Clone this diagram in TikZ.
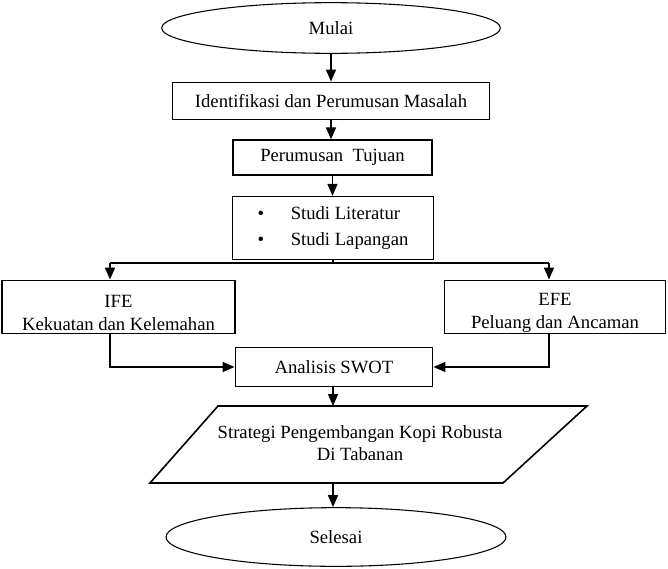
\documentclass[tikz,border=0pt]{standalone}
\usepackage{fontspec}
\setmainfont{Liberation Serif}
\usepackage{tikz}
\usetikzlibrary{shapes.geometric}
\usetikzlibrary{arrows.meta}
\tikzset{terminal/.style={draw,ellipse,line width=0.8pt,inner sep=0pt},
 box/.style={draw,rectangle,line width=1.2pt,inner sep=0pt,align=center},
 blank/.style={draw=none,align=center},
 arr/.style={line width=1.2pt,-{Triangle[width=7.5pt,length=9pt]}},
 link/.style={line width=1.2pt},
 }

\begin{document}
\begin{tikzpicture}[x=0.75pt,y=-0.75pt,font=\fontsize{14}{17}\selectfont]
        \useasboundingbox (0,0) rectangle (668,568);
        \node[terminal,minimum width=254pt,minimum height=38pt] (mulai) at (331,28) {Mulai};
        \node[box,minimum width=238pt,minimum height=28pt] (masalah) at (331,101) {Identifikasi dan Perumusan Masalah};
        \node[box,minimum width=149pt,minimum height=26pt] (tujuan) at (332.5,157.5) {Perumusan\ \ Tujuan};
        \node[box,minimum width=151pt,minimum height=47pt,align=left] (studi) at (333,228)
            {\textbullet\hspace{20pt}Studi Literatur\\[2pt]\textbullet\hspace{20pt}Studi Lapangan};
        \node[box,minimum width=175pt,minimum height=40pt] (ife) at (118.5,307) {\rule{0pt}{18pt}IFE\\Kekuatan dan Kelemahan};
        \node[box,minimum width=166pt,minimum height=40pt] (efe) at (555,307) {\rule{0pt}{18pt}EFE\\Peluang dan Ancaman};
        \node[box,minimum width=148pt,minimum height=29pt] (swot) at (334,367) {Analisis SWOT};
        \coordinate (pkiriatas) at (218,406);
        \coordinate (pkananatas) at (587,406);
        \coordinate (pkananbawah) at (503,483);
        \coordinate (pkiribawah) at (150,483);
        \draw[link] (pkiriatas) -- (pkananatas) -- (pkananbawah) -- (pkiribawah) -- cycle;
        \node[blank] (strategi) at (360,443) {Strategi Pengembangan Kopi Robusta\\Di Tabanan};
        \node[terminal,minimum width=255pt,minimum height=44pt] (selesai) at (336,537) {Selesai};
        \coordinate (kiri) at (110,263);
        \coordinate (kanan) at (549,263);
        \draw[arr] (mulai.south -| masalah.north) -- (masalah.north);
        \draw[arr] (masalah.south) -- (masalah.south |- tujuan.north);
        \draw[arr] (tujuan.south) -- (tujuan.south |- studi.north);
        \draw[link] (studi.south) -- (studi.south |- kiri);
        \draw[link] (kiri) -- (kanan);
        \draw[arr] (kiri) -- (kiri |- ife.north);
        \draw[arr] (kanan) -- (kanan |- efe.north);
        \draw[arr] (kiri |- ife.south) |- (swot.west);
        \draw[arr] (kanan |- efe.south) |- (swot.east);
        \draw[arr] (swot.south -| studi.south) -- (studi.south |- pkiriatas);
        \draw[arr] (studi.south |- pkiribawah) -- (studi.south |- selesai.north);
    \end{tikzpicture}
\end{document}
